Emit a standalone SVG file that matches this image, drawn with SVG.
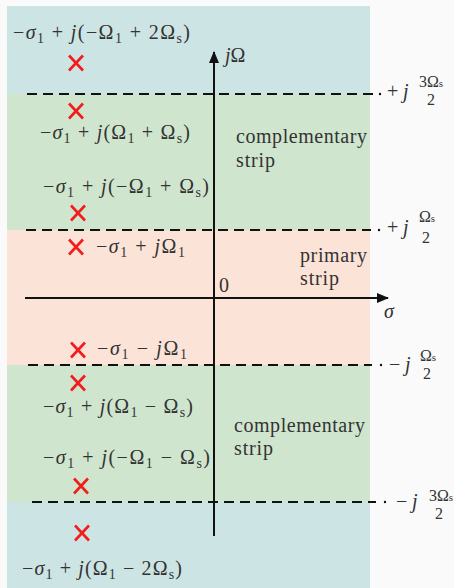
<svg xmlns="http://www.w3.org/2000/svg" width="454" height="588" viewBox="0 0 454 588">
<style>
.m{font-family:"Liberation Serif","DejaVu Serif",serif;font-size:20px;fill:#333}
.i{font-style:italic}
.sb{font-size:14px}
.fr{font-family:"Liberation Serif","DejaVu Serif",serif;font-size:16px;fill:#333;text-anchor:middle}
.fs{font-size:11px}
.x{stroke:#f21c1c;stroke-width:2.6;fill:none}
.d{stroke:#111;stroke-width:2.2;stroke-dasharray:10 6;fill:none}
.ax{stroke:#111;stroke-width:2;fill:none}
.dot{fill:#111}
</style>
<defs>
<marker id="ah" markerWidth="12" markerHeight="10" refX="11" refY="5" orient="auto" markerUnits="userSpaceOnUse">
<path d="M0,0 L12,5 L0,10 Z" fill="#111"/>
</marker>
<g id="xm"><path class="x" d="M-7,-7.5 L7,7.5 M-7,7.5 L7,-7.5"/></g>
</defs>
<rect width="454" height="588" fill="#fafafa"/>
<g id="regions">
<rect x="7" y="6" width="363" height="88" fill="#cde4e4"/>
<rect x="7" y="94" width="363" height="136" fill="#cfe5ce"/>
<rect x="7" y="230" width="363" height="135" fill="#fce3d7"/>
<rect x="7" y="365" width="363" height="137" fill="#cfe5ce"/>
<rect x="7" y="502" width="363" height="86" fill="#cde4e4"/>
</g>
<g id="connectors">
<path class="d" d="M27,94 H373"/><circle class="dot" cx="380" cy="94" r="1.2"/>
<path class="d" d="M26,230 H371"/><circle class="dot" cx="379" cy="230" r="1.2"/>
<path class="d" d="M28,365 H372"/><circle class="dot" cx="381" cy="365" r="1.2"/>
<path class="d" d="M32,502 H376"/><circle class="dot" cx="385" cy="502" r="1.2"/>
<path class="ax" d="M214,536 V52" marker-end="url(#ah)"/>
<path class="ax" d="M25,298 H388" marker-end="url(#ah)"/>
</g>
<g id="axis-labels">
<text class="m" x="225" y="62"><tspan class="i">j</tspan>Ω</text>
<text class="m" x="219" y="292">0</text>
<text class="m i" x="384" y="318">σ</text>
</g>
<g id="level-labels">
<g id="lv1"><text class="m" x="387" y="98">+<tspan class="i" x="403">j</tspan></text><text class="fr" x="431" y="87">3Ω<tspan class="fs">s</tspan></text><text class="fr" x="431" y="105">2</text></g>
<g id="lv2"><text class="m" x="387" y="234">+<tspan class="i" x="403">j</tspan></text><text class="fr" x="427" y="222">Ω<tspan class="fs">s</tspan></text><text class="fr" x="426" y="243">2</text></g>
<g id="lv3"><text class="m" x="389" y="371">−<tspan class="i" x="405">j</tspan></text><text class="fr" x="428" y="361">Ω<tspan class="fs">s</tspan></text><text class="fr" x="427" y="379">2</text></g>
<g id="lv4"><text class="m" x="396" y="508">−<tspan class="i" x="412">j</tspan></text><text class="fr" x="441" y="501">3Ω<tspan class="fs">s</tspan></text><text class="fr" x="439" y="519">2</text></g>
</g>
<g id="strip-labels">
<text class="m" x="236" y="143" textLength="131">complementary</text>
<text class="m" x="236" y="167" textLength="39">strip</text>
<text class="m" x="300" y="262" textLength="67">primary</text>
<text class="m" x="300" y="285" textLength="39">strip</text>
<text class="m" x="234" y="432" textLength="131">complementary</text>
<text class="m" x="234" y="455" textLength="39">strip</text>
</g>
<g id="poles">
<g id="p1"><use href="#xm" x="76" y="63"/><text class="m" x="13" y="39" textLength="177">−<tspan class="i">σ</tspan><tspan class="sb" dy="4">1</tspan><tspan dy="-4"> + </tspan><tspan class="i">j</tspan>(−Ω<tspan class="sb" dy="4">1</tspan><tspan dy="-4"> + 2Ω</tspan><tspan class="sb" dy="4">s</tspan><tspan dy="-4">)</tspan></text></g>
<g id="p2"><use href="#xm" x="76" y="111"/><text class="m" x="40" y="139" textLength="150">−<tspan class="i">σ</tspan><tspan class="sb" dy="4">1</tspan><tspan dy="-4"> + </tspan><tspan class="i">j</tspan>(Ω<tspan class="sb" dy="4">1</tspan><tspan dy="-4"> + Ω</tspan><tspan class="sb" dy="4">s</tspan><tspan dy="-4">)</tspan></text></g>
<g id="p3"><use href="#xm" x="78" y="213"/><text class="m" x="43" y="193" textLength="166">−<tspan class="i">σ</tspan><tspan class="sb" dy="4">1</tspan><tspan dy="-4"> + </tspan><tspan class="i">j</tspan>(−Ω<tspan class="sb" dy="4">1</tspan><tspan dy="-4"> + Ω</tspan><tspan class="sb" dy="4">s</tspan><tspan dy="-4">)</tspan></text></g>
<g id="p4"><use href="#xm" x="76" y="247"/><text class="m" x="96" y="253" textLength="89">−<tspan class="i">σ</tspan><tspan class="sb" dy="4">1</tspan><tspan dy="-4"> + </tspan><tspan class="i">j</tspan>Ω<tspan class="sb" dy="4">1</tspan></text></g>
<g id="p5"><use href="#xm" x="78" y="350"/><text class="m" x="97" y="355" textLength="90">−<tspan class="i">σ</tspan><tspan class="sb" dy="4">1</tspan><tspan dy="-4"> − </tspan><tspan class="i">j</tspan>Ω<tspan class="sb" dy="4">1</tspan></text></g>
<g id="p6"><use href="#xm" x="78" y="383"/><text class="m" x="43" y="413" textLength="150">−<tspan class="i">σ</tspan><tspan class="sb" dy="4">1</tspan><tspan dy="-4"> + </tspan><tspan class="i">j</tspan>(Ω<tspan class="sb" dy="4">1</tspan><tspan dy="-4"> − Ω</tspan><tspan class="sb" dy="4">s</tspan><tspan dy="-4">)</tspan></text></g>
<g id="p7"><use href="#xm" x="81" y="486"/><text class="m" x="43" y="464" textLength="167">−<tspan class="i">σ</tspan><tspan class="sb" dy="4">1</tspan><tspan dy="-4"> + </tspan><tspan class="i">j</tspan>(−Ω<tspan class="sb" dy="4">1</tspan><tspan dy="-4"> − Ω</tspan><tspan class="sb" dy="4">s</tspan><tspan dy="-4">)</tspan></text></g>
<g id="p8"><use href="#xm" x="82" y="533"/><text class="m" x="22" y="575" textLength="160">−<tspan class="i">σ</tspan><tspan class="sb" dy="4">1</tspan><tspan dy="-4"> + </tspan><tspan class="i">j</tspan>(Ω<tspan class="sb" dy="4">1</tspan><tspan dy="-4"> − 2Ω</tspan><tspan class="sb" dy="4">s</tspan><tspan dy="-4">)</tspan></text></g>
</g>
</svg>
